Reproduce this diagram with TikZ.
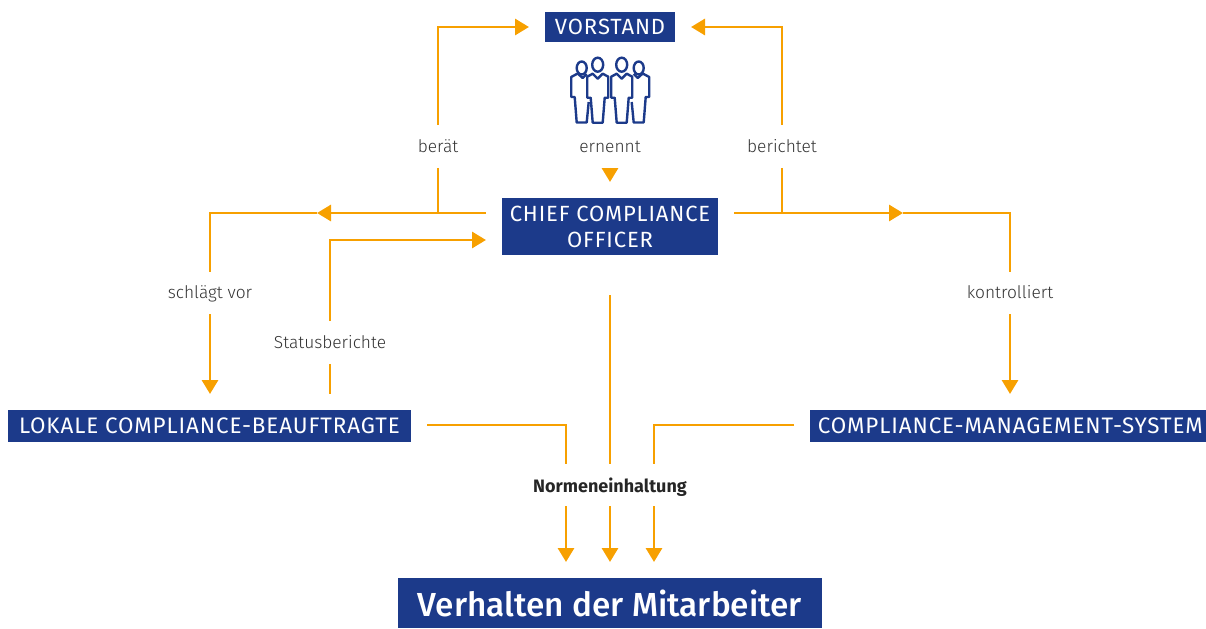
\documentclass[tikz,border=0pt]{standalone}
\usepackage{fontspec}
\setmainfont{Fira Sans Light}[BoldFont={Fira Sans Bold}]
\newfontfamily\boxfont[LetterSpace=4]{Fira Sans}
\newfontfamily\titelfont{Fira Sans Medium}
\definecolor{dkblau}{HTML}{1C3A8A}
\definecolor{dkorange}{HTML}{F7A000}
\definecolor{dkgrau}{HTML}{333333}
\usetikzlibrary{arrows.meta}
\tikzset{
	persongross/.pic={
		\draw[personstyle] (0,0) ellipse (5.5 and 7);
		\draw[personstyle,line join=round] (-5,9)--(0,14)--(5,9)--(10.5,12)--(10.5,33)--(7,33)--(5,58)--(-5,58)--(-7,33)--(-10.5,33)--(-10.5,12)--cycle;
	},
	personklein/.pic={
		\draw[personstyle] (0,0) ellipse (5 and 6.5);
		\draw[personstyle,line join=round] (7,34)--(5,54.5)--(-5,54.5)--(-7,29)--(-10.5,29)--(-10.5,9)--(-4,5.5)--(1,10)--(5,6);
	}
}
\begin{document}
\begin{tikzpicture}[x=.75pt,y=-.75pt,>={Triangle[length=10.5pt,width=12pt]}]
	\tikzstyle{boxstyle} = [fill=dkblau,text=white,font=\boxfont\fontsize{16.5}{19.5}\selectfont,align=center,inner sep=0pt,outer sep=12pt]
	\tikzstyle{labelstyle} = [text=dkgrau,font=\fontsize{13}{15}\selectfont,inner sep=0pt,text height=11.5pt,text depth=3pt,minimum height=31.5pt]
	\tikzstyle{linestyle} = [->,line width=2.2pt,dkorange]
	\tikzstyle{plainstyle} = [line width=2.2pt,dkorange]
	\tikzstyle{personstyle} = [line width=1.8pt,dkblau]
	\useasboundingbox (0,0) rectangle (1206,628);
	\node[boxstyle,minimum width=97.5pt,minimum height=22.5pt] (vorstand) at (610,27) {VORSTAND};
	\node[boxstyle,minimum width=162pt,minimum height=42.75pt] (chief) at (610,226.5) {CHIEF COMPLIANCE\\OFFICER};
	\node[boxstyle,minimum width=302.25pt,minimum height=24pt,font=\boxfont\fontsize{16.8}{19.5}\selectfont] (lokal) at (209.5,426) {LOKALE COMPLIANCE-BEAUFTRAGTE};
	\node[boxstyle,minimum width=297pt,minimum height=24pt,font=\boxfont\fontsize{16.8}{19.5}\selectfont] (cms) at (1008,426) {\hspace*{3.5pt}COMPLIANCE-MANAGEMENT-SYSTEM};
	\node[boxstyle,minimum width=318pt,minimum height=37.5pt,font=\titelfont\fontsize{25}{28}\selectfont] (verhalten) at (610,603) {Verhalten der Mitarbeiter};
	\node[labelstyle] (beraet) at (438,146.5) {berät};
	\node[labelstyle] (ernennt) at (610,146.5) {ernennt};
	\node[labelstyle] (berichtet) at (782,146.5) {berichtet};
	\node[labelstyle] (schlaegt) at (210,293) {schlägt vor};
	\node[labelstyle] (kontrolliert) at (1010,293) {kontrolliert};
	\node[labelstyle] (status) at (330,342.5) {Statusberichte};
	\node[labelstyle,font=\bfseries\fontsize{13.5}{15}\selectfont,text height=13pt,text depth=2.5pt,text=black!85] (norm) at (610,485) {Normeneinhaltung};
	\coordinate (pfeillinks) at (317,213);
	\coordinate (pfeilrechts) at (903,213);
	\coordinate (pfeilstatus) at (330,240);
	\coordinate (ecklinks) at (566,425);
	\coordinate (eckrechts) at (654,425);
	\pic at (581.7,68) {personklein};
	\pic at (597.7,64.7) {persongross};
	\pic at (621.7,64.7) {persongross};
	\pic[xscale=-1] at (638.7,68) {personklein};
	\draw[linestyle] (beraet.north) |- (vorstand.west);
	\draw[linestyle] (berichtet.north) |- (vorstand.east);
	\draw[linestyle] (ernennt.south) -- (chief.north);
	\draw[plainstyle] (beraet.south) -- (beraet.south |- pfeillinks);
	\draw[plainstyle] (berichtet.south) -- (berichtet.south |- pfeilrechts);
	\draw[linestyle] (chief.west |- pfeillinks) -- (pfeillinks);
	\draw[plainstyle] (pfeillinks) -| (schlaegt.north);
	\draw[linestyle] (schlaegt.south) -- (schlaegt.south |- lokal.north);
	\draw[linestyle] (chief.east |- pfeilrechts) -- (pfeilrechts);
	\draw[plainstyle] (pfeilrechts) -| (kontrolliert.north);
	\draw[linestyle] (kontrolliert.south) -- (kontrolliert.south |- cms.north);
	\draw[plainstyle] (status.south) -- (status.south |- lokal.north);
	\draw[linestyle] (status.north) |- (chief.west |- pfeilstatus);
	\draw[plainstyle] (lokal.east |- ecklinks) -| (ecklinks |- norm.north);
	\draw[plainstyle] (cms.west |- eckrechts) -| (eckrechts |- norm.north);
	\draw[plainstyle,shorten <=18pt] (chief.south) -- (norm.north);
	\draw[linestyle] (ecklinks |- norm.south) -- (ecklinks |- verhalten.north);
	\draw[linestyle] (norm.south) -- (verhalten.north);
	\draw[linestyle] (eckrechts |- norm.south) -- (eckrechts |- verhalten.north);
\end{tikzpicture}
\end{document}
